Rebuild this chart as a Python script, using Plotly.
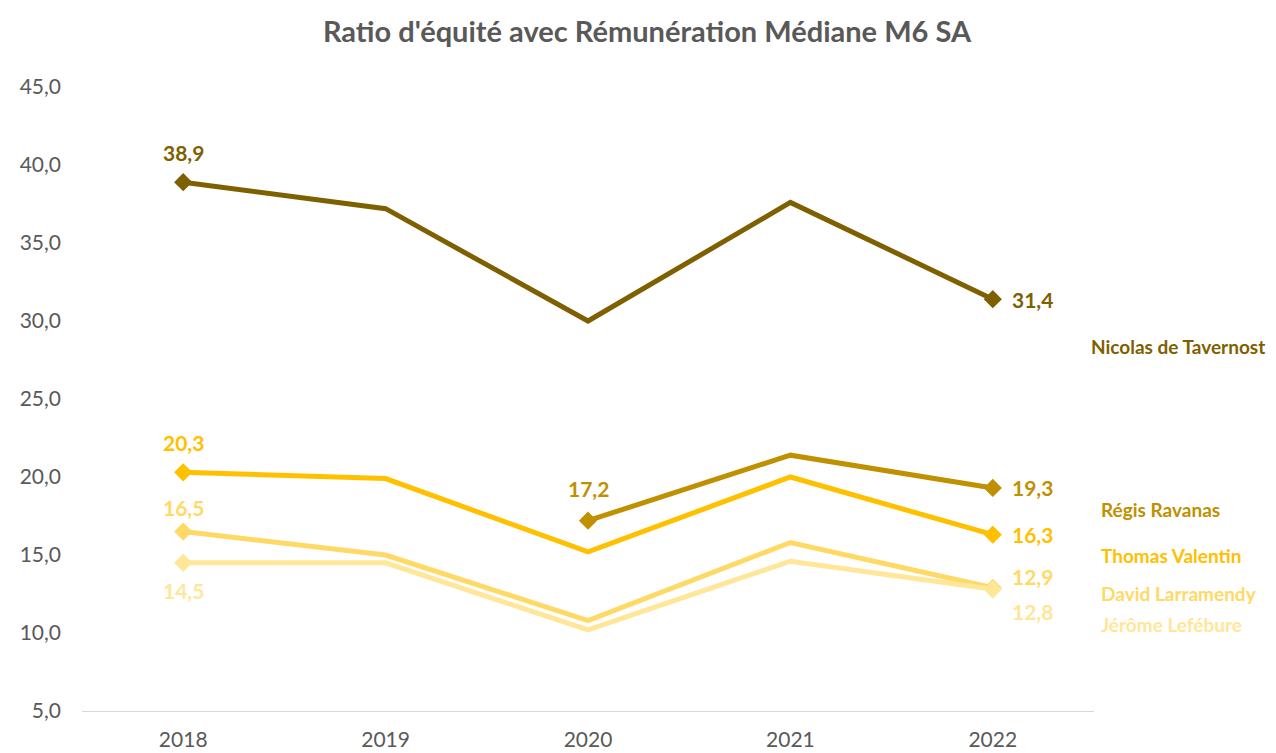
import plotly.graph_objects as go

years = ["2018", "2019", "2020", "2021", "2022"]
nicolas = [38.9, 37.2, 30.0, 37.6, 31.4]
regis = [None, None, 17.2, 21.4, 19.3]
thomas = [20.3, 19.9, 15.2, 20.0, 16.3]
david = [16.5, 15.0, 10.8, 15.8, 12.9]
jerome = [14.5, 14.5, 10.2, 14.6, 12.8]
names = ["Nicolas de Tavernost", "Régis Ravanas", "Thomas Valentin", "David Larramendy", "Jérôme Lefébure"]
y_ticks = [5, 10, 15, 20, 25, 30, 35, 40, 45]
title = "Ratio d'équité avec Rémunération Médiane M6 SA"

series = [nicolas, regis, thomas, david, jerome]
colors = ["#7F6000", "#BF9000", "#FFC000", "#FFD966", "#FFE699"]
widths = [5, 5, 5, 5, 5]
# label spec: (index, xshift, yshift, xanchor)
label_specs = [
    [(0, 0, 30, "center"), (4, 17, 0, "left")],
    [(2, 0, 32, "center"), (4, 17, 0, "left")],
    [(0, 0, 30, "center"), (4, 17, 0, "left")],
    [(0, 0, 24, "center"), (4, 17, 11, "left")],
    [(0, 0, -28, "center"), (4, 17, -22, "left")],
]
# reference pixel positions of series names (left edge, vertical centre)
name_pos = [(1089, 346), (1099, 509), (1099, 555), (1099, 593), (1099, 624)]

# plot area in reference (window) pixels
PL, PR, PT, PB = 82, 1094, 87, 711
OFF = 8  # page body margin
W, H = 1276 - OFF, 753 - OFF

FONT = "Lato"
fig = go.Figure()
annotations = []
for vals, name, col, w, specs in zip(series, names, colors, widths, label_specs):
    marker_idx = [s[0] for s in specs]
    sizes = [14 if i in marker_idx else 0 for i in range(len(years))]
    fig.add_trace(go.Scatter(
        x=years, y=vals, mode="lines+markers", name=name,
        line=dict(color=col, width=w),
        marker=dict(symbol="diamond", size=sizes, color=col, opacity=1, line=dict(width=0)),
        connectgaps=False, showlegend=False,
    ))
    for idx, xs, ys, xa in specs:
        annotations.append(dict(
            x=idx, y=vals[idx], xref="x", yref="y",
            text="<b>" + f"{vals[idx]:.1f}".replace(".", ",") + "</b>",
            showarrow=False, xshift=xs, yshift=ys, xanchor=xa, yanchor="middle",
            font=dict(family=FONT, size=21, color=col),
        ))

for name, col, (px, py) in zip(names, colors, name_pos):
    annotations.append(dict(
        x=(px - PL) / (PR - PL), y=(PB - py) / (PB - PT), xref="paper", yref="paper",
        text="<b>" + name + "</b>", showarrow=False,
        xanchor="left", yanchor="middle",
        font=dict(family=FONT, size=19, color=col),
    ))

fig.update_layout(
    width=W, height=H,
    margin=dict(l=PL - OFF, r=W - (PR - OFF), t=PT - OFF, b=H - (PB - OFF), autoexpand=False),
    paper_bgcolor="white", plot_bgcolor="white",
    separators=", ",
    title=dict(text="<b>" + title + "</b>", x=(647 - OFF) / W, xanchor="center",
               y=1 - (32 - OFF) / H, yanchor="middle",
               font=dict(family=FONT, size=29, color="#595959")),
    annotations=annotations,
    xaxis=dict(type="category", range=[-0.5, 4.5], showgrid=False, showline=True,
               linecolor="#D9D9D9", linewidth=1, ticks="", zeroline=False, automargin=False,
               tickfont=dict(family=FONT, size=21, color="#595959"), ticklabelstandoff=10),
    yaxis=dict(range=[5, 45], tickvals=y_ticks, tickformat=".1f", showgrid=False,
               showline=False, zeroline=False, ticks="", automargin=False,
               tickfont=dict(family=FONT, size=21, color="#595959"), ticklabelstandoff=20),
)

fig.write_html("out.html")
